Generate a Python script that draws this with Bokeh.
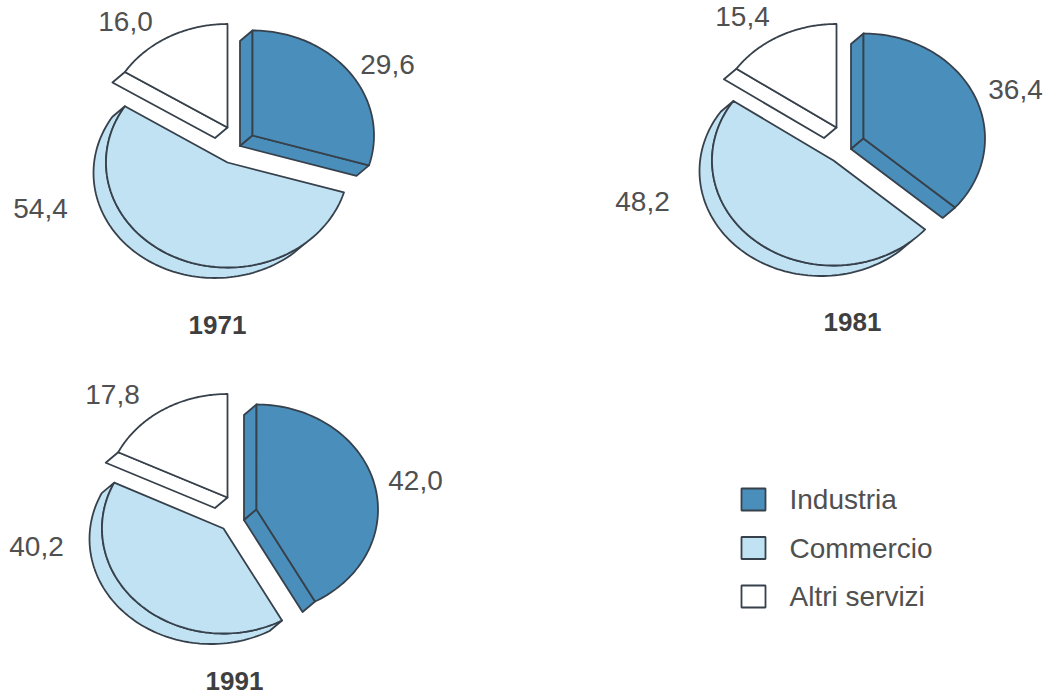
import numpy as np
from bokeh.plotting import figure
from bokeh.models import Range1d
from bokeh.core.properties import value
from bokeh.embed import file_html
from bokeh.resources import INLINE

years = ["1971", "1981", "1991"]
categories = ["Industria", "Commercio", "Altri servizi"]
industria = [29.6, 36.4, 42.0]
commercio = [54.4, 48.2, 40.2]
altri = [16.0, 15.4, 17.8]
labels_ind = ["29,6", "36,4", "42,0"]
labels_com = ["54,4", "48,2", "40,2"]
labels_alt = ["16,0", "15,4", "17,8"]

C_IND, C_COM, C_ALT = "#4a8fbb", "#c0e2f2", "#ffffff"
LINE = "#37414c"
TXT = "#505050"
FONT = "Liberation Sans"
LW = 1.8
RX, RY = 121.5, 105.0
OX, OY = -12.5, 10.5

# page-pixel layout: apex of each slice for each pie
apex_ind = [(252, 135), (863, 138), (256, 509)]
apex_com = [(227, 162), (833, 160), (223, 528)]
apex_alt = [(227, 127), (836, 127), (227, 497)]
pos_ind = [(387, 64), (1015, 89), (415, 480)]
pos_com = [(40, 208), (642, 201), (36, 546)]
pos_alt = [(125, 21), (742, 16), (112, 394)]
pos_year = [(217, 324), (852, 321), (234, 680)]

p = figure(width=1050, height=695, x_range=Range1d(0, 1050), y_range=Range1d(695, 0),
           output_backend="svg", toolbar_location=None,
           x_axis_location=None, y_axis_location=None, min_border=0,
           background_fill_color="white", outline_line_color=None)
p.grid.visible = False


def pt(c, th, rx=RX, ry=RY, off=(0, 0)):
    return c[0] + off[0] + rx * np.sin(th), c[1] + off[1] - ry * np.cos(th)


def arc(c, a, b, off=(0, 0), ry=RY):
    th = np.linspace(a, b, 90)
    return pt(c, th, ry=ry, off=off)


def poly(xs, ys, color):
    p.patch(list(xs), list(ys), fill_color=color, line_color=LINE, line_width=LW, line_join="round")


def face(c, a, b, color, ry=RY):
    x, y = arc(c, a, b, ry=ry)
    poly(np.r_[c[0], x], np.r_[c[1], y], color)


def radial_side(c, th, color, ry=RY):
    x, y = pt(c, th, ry=ry)
    poly([c[0], x, x + OX, c[0] + OX], [c[1], y, y + OY, c[1] + OY], color)


TAU = 2 * np.pi
for i in range(3):
    i0 = 0.0
    i1 = industria[i] / 100 * TAU
    c1 = i1 + commercio[i] / 100 * TAU
    a1 = c1 + altri[i] / 100 * TAU

    # Altri servizi: side wall, then top face
    c = apex_alt[i]
    radial_side(c, c1, C_ALT, ry=103.5)
    face(c, c1, a1, C_ALT, ry=103.5)

    # Commercio: crescent wall, then top face
    c = apex_com[i]
    dx, dy = OX / RX, OY / RY
    d2 = dx * dx + dy * dy
    h = np.sqrt(1 - d2 / 4)
    px = dx / 2 + h * dy / np.sqrt(d2)
    py = dy / 2 - h * dx / np.sqrt(d2)
    tx = max(np.arctan2(px, -py), i1)
    xo, yo = arc(c, tx, c1, off=(OX, OY))
    xf, yf = arc(c, c1, tx)
    poly(np.r_[xo, xf], np.r_[yo, yf], C_COM)
    face(c, i1, c1, C_COM)

    # Industria: two side walls, then top face
    c = apex_ind[i]
    radial_side(c, i0, C_IND)
    radial_side(c, i1, C_IND)
    face(c, i0, i1, C_IND)

    for lab, pos in ((labels_ind[i], pos_ind[i]), (labels_com[i], pos_com[i]), (labels_alt[i], pos_alt[i])):
        p.text([pos[0]], [pos[1]], text=[lab], text_font=value(FONT), text_font_size="28px",
               text_color=TXT, text_align="center", text_baseline="middle")
    p.text([pos_year[i][0]], [pos_year[i][1]], text=[years[i]], text_font=value(FONT),
           text_font_style="bold", text_font_size="26px", text_color="#3f3f3f",
           text_align="center", text_baseline="middle")

# legend
for cat, col, yc in zip(categories, (C_IND, C_COM, C_ALT), (499, 547.5, 596)):
    p.quad(left=[741], right=[765], top=[yc - 11], bottom=[yc + 11], fill_color=col, line_color=LINE, line_width=LW)
    p.text([789], [yc], text=[cat], text_font=value(FONT), text_font_size="28px",
           text_color=TXT, text_align="left", text_baseline="middle")

open("out.html", "w").write(file_html(p, INLINE))
